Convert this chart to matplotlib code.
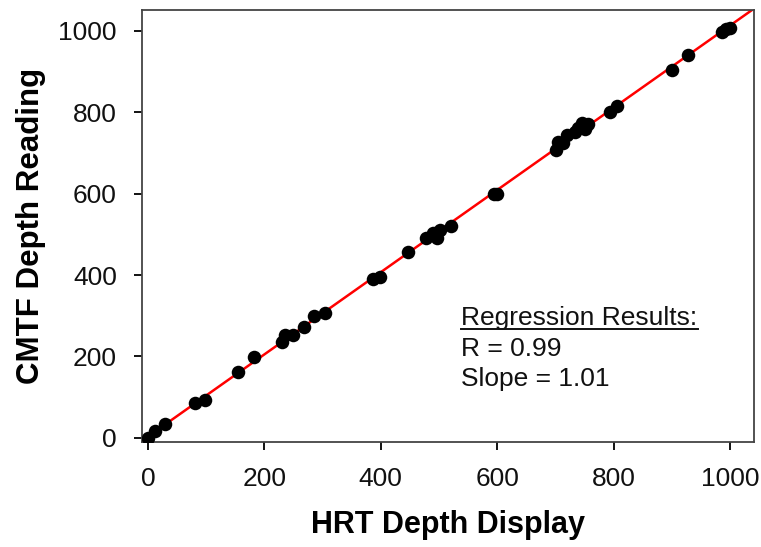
import matplotlib
matplotlib.use("Agg")
import matplotlib.pyplot as plt
import numpy as np

plt.rcParams['font.family'] = ['Liberation Sans', 'DejaVu Sans']

hrt = [0, 12, 30, 81, 98, 155, 182, 230, 235, 249, 268, 285, 304, 387, 399,
       447, 478, 490, 496, 502, 521, 595, 600, 701, 704, 713, 720, 734, 739,
       746, 751, 756, 794, 806, 900, 928, 986, 993, 1000]
cmtf = [0, 16, 34, 86, 93, 162, 199, 236, 253, 253, 273, 300, 307, 391, 396,
        457, 491, 504, 491, 511, 521, 600, 600, 708, 727, 725, 744, 752, 762,
        774, 759, 771, 801, 816, 904, 941, 998, 1005, 1008]
slope = 1.01
intercept = 3
ticks = [0, 200, 400, 600, 800, 1000]
summary = ["Regression Results:", "R = 0.99", "Slope = 1.01"]

fig = plt.figure(figsize=(7.61, 5.47), dpi=100)
ax = fig.add_axes([142/761, 105/547, 612/761, 432/547])
ax.set_xlim(-10, 1041)
ax.set_ylim(-10, 1051)

xl = np.array(ax.get_xlim())
ax.plot(xl, slope * xl + intercept, color='#ff0000', lw=1.8, zorder=2)
ax.scatter(hrt, cmtf, s=95, color='black', zorder=3, linewidths=0)

ax.set_xticks(ticks)
ax.set_yticks(ticks)
ax.tick_params(direction='out', length=6, width=1.3, labelsize=19, pad=12,
               color='black', labelcolor='#111111')
for s in ax.spines.values():
    s.set_color('#444444')
    s.set_linewidth(1.3)

ax.set_xlabel("HRT Depth Display", fontsize=22, fontweight='bold', labelpad=14)
ax.set_ylabel("CMTF Depth Reading", fontsize=22.5, fontweight='bold', labelpad=9)

ys = [0.271, 0.200, 0.130]
texts = []
for t, y in zip(summary, ys):
    texts.append(ax.text(0.522, y, t, transform=ax.transAxes, fontsize=19,
                         va='baseline', ha='left', color='#111111'))

fig.canvas.draw()
r = fig.canvas.get_renderer()
bb = texts[0].get_window_extent(renderer=r)
inv = ax.transAxes.inverted()
(x0, _), (x1, _) = inv.transform([[bb.x0, 0], [bb.x1, 0]])
base = ys[0] - 4.5 / 432
ax.plot([x0, x1], [base, base], transform=ax.transAxes, color='#111111',
        lw=1.4, clip_on=False)

fig.savefig("out.png", dpi=100)
